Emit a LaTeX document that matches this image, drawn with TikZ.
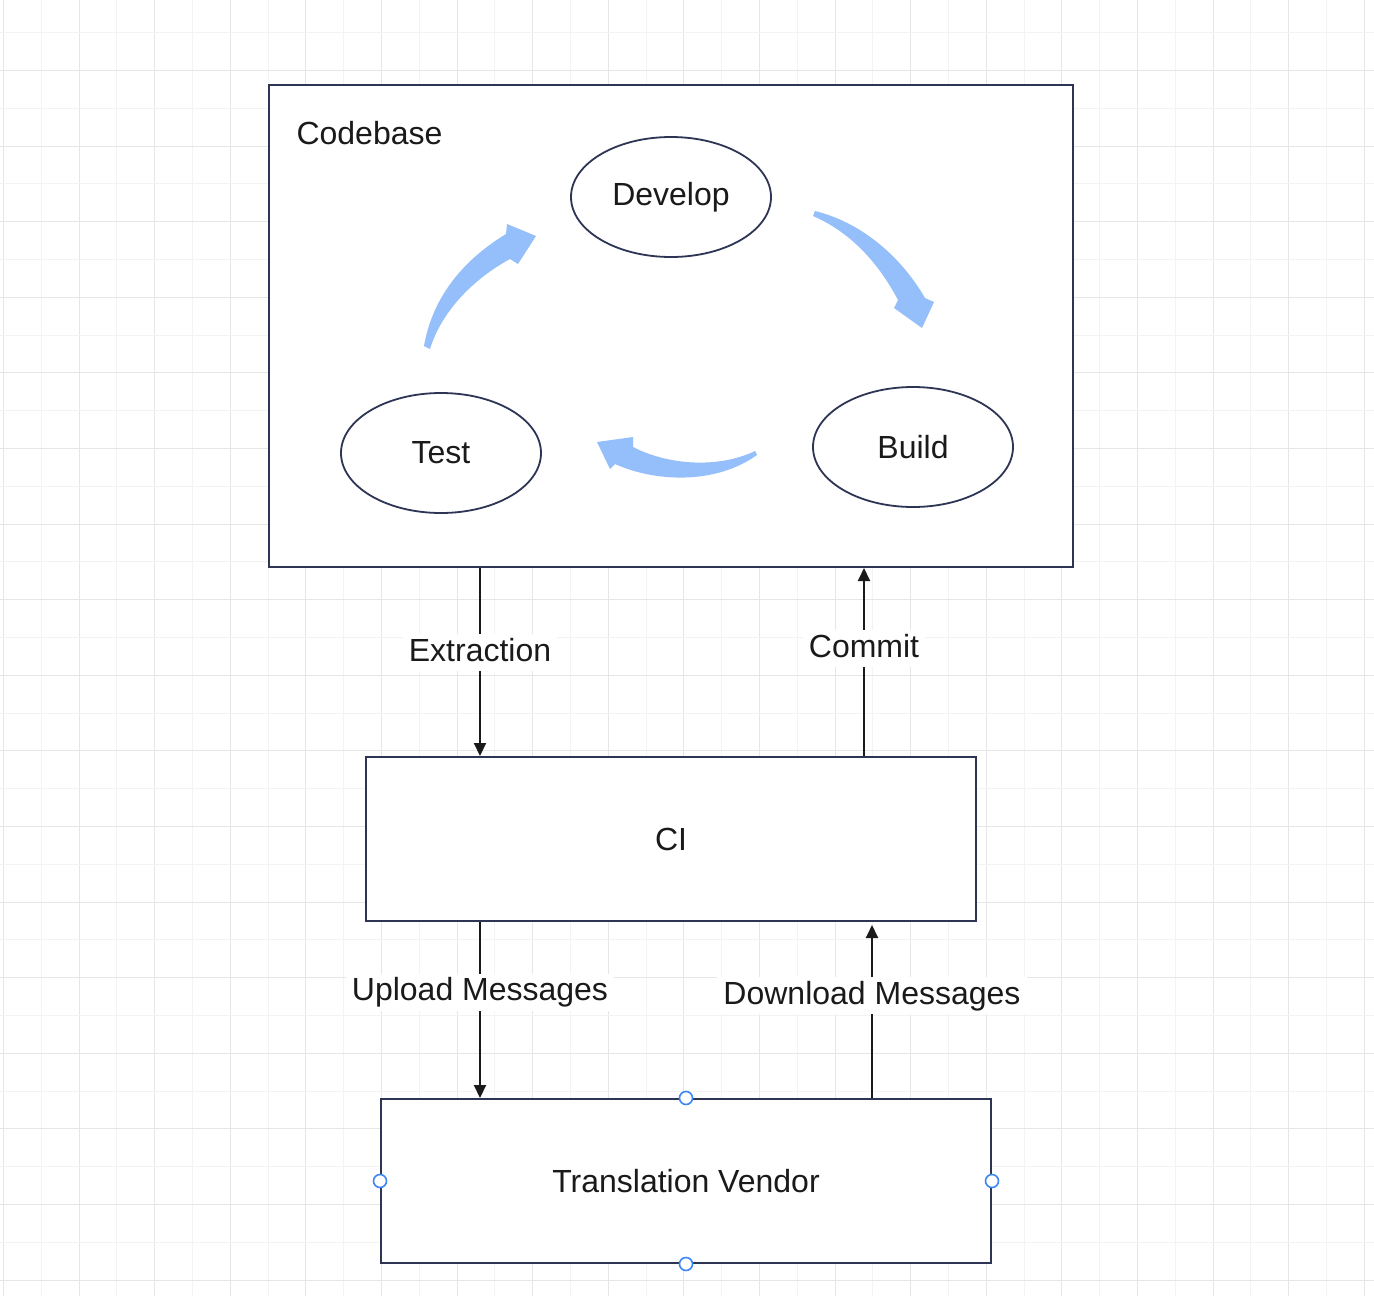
\documentclass[tikz,border=0pt]{standalone}
\usepackage{fontspec}
\setmainfont{Liberation Sans}
\usetikzlibrary{arrows.meta,shapes.geometric}

\definecolor{boxline}{HTML}{2E3454}
\definecolor{txt}{HTML}{1A1A1A}
\definecolor{cycleblue}{HTML}{94BFFA}
\definecolor{handleblue}{HTML}{3D86F5}
\definecolor{gridmajor}{HTML}{E6E6E6}
\definecolor{gridminor}{HTML}{F3F3F3}

\tikzset{
  box/.style={draw=boxline, line width=2pt, fill=white, inner sep=0pt},
  phase/.style={ellipse, draw=boxline, line width=1.8pt, fill=white,
    minimum width=200pt, minimum height=120pt, inner sep=0pt},
  flow/.style={draw=txt, line width=2pt, -{Triangle[length=13pt,width=12pt]}},
  lbl/.style={fill=white, inner xsep=6pt, inner ysep=3pt,
    text height=24pt, text depth=7pt},
  handle/.style={circle, draw=handleblue, line width=1.6pt, fill=white,
    minimum size=13pt, inner sep=0pt},
  cyclearrow/.style={fill=cycleblue}
}

\begin{document}
\begin{tikzpicture}[x=1pt, y=-1pt, font=\fontsize{32}{38}\selectfont, text=txt]
  % Sfondo e griglia
  \fill[white] (0,0) rectangle (1374,1296);
  \useasboundingbox (0,0) rectangle (1374,1296);
  \foreach \i in {0,...,18} {
    \draw[gridminor, line width=1pt] ({round(40.8+75.6*\i)+0.5},0) -- ({round(40.8+75.6*\i)+0.5},1296);
    \draw[gridmajor, line width=1pt] ({round(3+75.6*\i)+0.5},0) -- ({round(3+75.6*\i)+0.5},1296);
  }
  \foreach \j in {0,...,17} {
    \draw[gridminor, line width=1pt] (0,{round(32.2+75.6*\j)+0.5}) -- (1374,{round(32.2+75.6*\j)+0.5});
    \draw[gridmajor, line width=1pt] (0,{round(70+75.6*\j)+0.5}) -- (1374,{round(70+75.6*\j)+0.5});
  }

  % Blocchi principali
  \node[box, minimum width=804pt, minimum height=482pt] (codebase) at (671,326) {};
  \node[anchor=west] (codebaselbl) at (293,133) {Codebase};
  \node[box, minimum width=610pt, minimum height=164pt] (ci) at (671,839) {CI};
  \node[box, minimum width=610pt, minimum height=164pt] (vendor) at (686,1181) {Translation Vendor};

  % Fasi del ciclo
  \node[phase] (develop) at (671,197) {Develop};
  \node[phase] (build) at (913,447) {Build};
  \node[phase] (test) at (441,453) {Test};

  % Frecce curve del ciclo
  \fill[cyclearrow] (424,346) .. controls (432,300) and (460,262) .. (506,234)
    -- (507,224) -- (536,236) -- (518,264) -- (510,259)
    .. controls (475,278) and (442,310) .. (430,349) -- cycle;
  \fill[cyclearrow] (815,211) .. controls (860,222) and (900,255) .. (925,298)
    -- (934,302) -- (922,328) -- (894,308) -- (898,300)
    .. controls (878,262) and (850,232) .. (813,216) -- cycle;
  \fill[cyclearrow] (755,451) .. controls (720,468) and (670,466) .. (633,447)
    -- (633,437) -- (597,442) -- (610,469) -- (615,464)
    .. controls (655,482) and (715,485) .. (757,455) -- cycle;

  % Collegamenti
  \coordinate (xe) at (480,0);
  \coordinate (xc) at (864,0);
  \coordinate (xd) at (872,0);
  \draw[flow] (xe |- codebase.south) -- node[lbl, pos=0.45] {Extraction} (xe |- ci.north);
  \draw[flow] (xc |- ci.north) -- node[lbl, pos=0.57] {Commit} (xc |- codebase.south);
  \draw[flow] (xe |- ci.south) -- node[lbl, pos=0.40] {Upload Messages} (xe |- vendor.north);
  \draw[flow, shorten >=3pt] (xd |- vendor.north) -- node[lbl, pos=0.58] {Download Messages} (xd |- ci.south);

  % Maniglie di selezione
  \node[handle] (hn) at (vendor.north) {};
  \node[handle] (hs) at (vendor.south) {};
  \node[handle] (hw) at (vendor.west) {};
  \node[handle] (he) at (vendor.east) {};
\end{tikzpicture}
\end{document}
